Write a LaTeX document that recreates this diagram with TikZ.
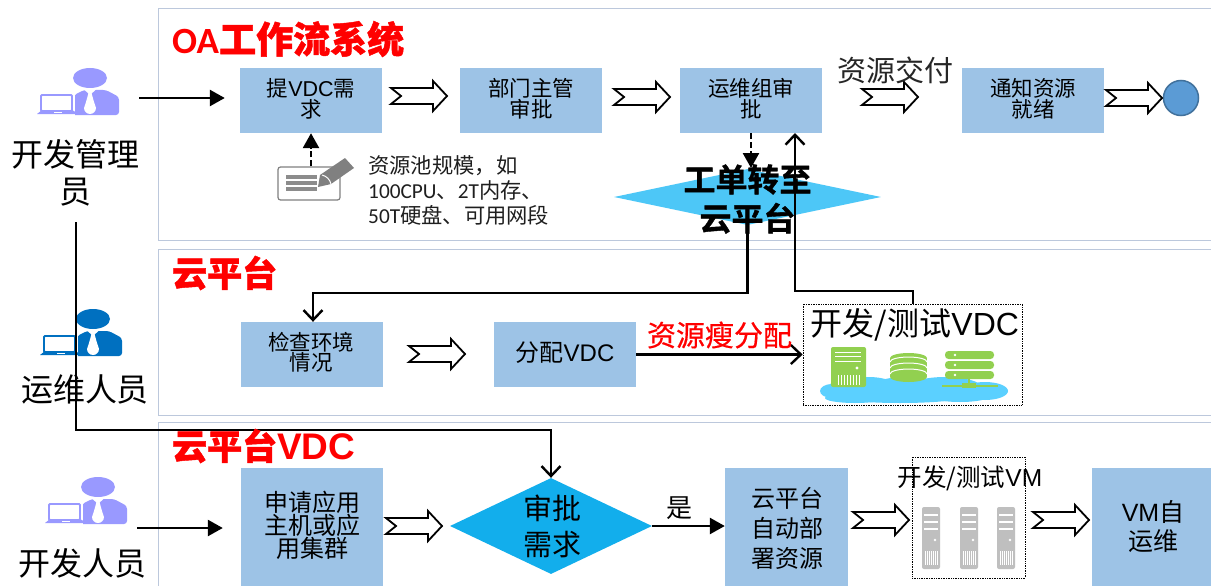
\documentclass[tikz,border=0pt]{standalone}
\usepackage{fontspec}
\setmainfont{Noto Sans CJK SC}
\newfontfamily\latf{Carlito}
\newfontfamily\lvf{Liberation Sans}
\newfontfamily\hvf[FakeBold=1.2]{Noto Sans CJK SC Bold}
\newfontfamily\mdf[FakeBold=0.5]{Noto Sans CJK SC}
\newcommand{\la}[1]{{\latf #1}}
\newcommand{\lv}[1]{{\lvf #1}}
\usetikzlibrary{arrows.meta,shapes.geometric,calc}
\definecolor{panelc}{HTML}{BCC8DC}
\definecolor{boxc}{HTML}{9DC3E6}
\definecolor{dmA}{HTML}{4DC7F7}
\definecolor{dmB}{HTML}{12AEEC}
\definecolor{cirF}{HTML}{5B9BD5}
\definecolor{cirL}{HTML}{41719C}
\definecolor{lav}{HTML}{9999FF}
\definecolor{opsb}{HTML}{0070C0}
\definecolor{grn}{HTML}{92D050}
\definecolor{cld}{HTML}{5BD0FF}
\definecolor{srv}{HTML}{BFBFBF}
\tikzset{
  x=1pt,y=-1pt,
  panel/.style={draw=panelc,line width=1pt,fill=white},
  flowbox/.style={fill=boxc,inner sep=0pt,minimum width=142pt,minimum height=65pt},
  txt/.style 2 args={font=\fontsize{#1}{#2}\selectfont,align=center,inner sep=0pt},
  ttl/.style={font=\fontsize{#1}{#1}\selectfont\bfseries,text=red,inner sep=0pt,anchor=west},
  conn/.style={draw=black,line width=2.6pt},
  filltip/.style={-{Triangle[length=15pt,width=16pt]}},
  opentip/.style={-{Straight Barb[length=10pt,width=19pt,line width=2.4pt]}},
  dotbox/.style={draw=black,line width=.7pt,densely dotted,inner sep=0pt},
  barrow/.pic={\draw[black,line width=1.8pt,fill=white,miter limit=10]
     (0,-8)--(42,-8)--(42,-15)--(56,0)--(42,15)--(42,8)--(0,8)--(10,0)--cycle;},
  person/.pic={
    \fill[pic actions,rounded corners=3pt] (74,95)--(84,90)--(106,90)--(119,97)--(119,115)--(66,115)--(74,112)--cycle;
    \fill[pic actions] (90,78) ellipse [x radius=17,y radius=10];
    \fill[white] (83,88.5)--(97,88.5)--(90,95)--cycle;
    \fill[white] (88.5,93)--(91.5,93)--(94,102)--(96,108) arc[start angle=0,end angle=180,radius=6]--(86,102)--cycle;
    \fill[white] (37,90) rectangle (74.5,116);
    \draw[line width=1.8pt,pic actions,fill=white,rounded corners=1pt] (41,95) rectangle (72,111);
    \fill[pic actions] (42,110)--(72,110)--(79,114)--(37,114)--cycle;
    \draw[white,line width=.8pt] (54,112.5)--(62,112.5);
  },
  gsrv/.pic={
    \fill[srv,rounded corners=2pt] (0,0) rectangle (18,62);
    \foreach \yy in {8,15,22}{\draw[white,line width=1.6pt] (2,\yy)--(16,\yy);}
    \fill[white] (13,33) circle (1.4);
    \foreach \xx in {3,5,...,15}{\draw[white,line width=.7pt] (\xx,44)--(\xx,58);}
  },
}
\begin{document}
\begin{tikzpicture}
\useasboundingbox (0,0) rectangle (1211,586);
\clip (0,0) rectangle (1211,586);
% panels
\path[panel] (158,9) rectangle (1220,240);
\path[panel] (158,249) rectangle (1220,415);
\path[panel] (158,422) rectangle (1220,600);
% boxes
\node[flowbox] (b1) at (311,100.5) {};
\node[flowbox] (b2) at (531,100.5) {};
\node[flowbox] (b3) at (751,100.5) {};
\node[flowbox] (b4) at (1033,100.5) {};
\node[flowbox] (b5) at (312,354.5) {};
\node[flowbox] (b6) at (565,354.5) {};
\node[flowbox,minimum height=130pt] (b7) at (312,533) {};
\node[flowbox,minimum width=123pt,minimum height=130pt] (b8) at (786.5,533) {};
\node[flowbox,minimum width=124pt,minimum height=130pt] (b9) at (1154,533) {};
\node[diamond,fill=dmA,inner sep=0pt,minimum width=267pt,minimum height=56pt,shape aspect=4.77] (wf) at (747.5,197) {};
\node[diamond,fill=dmB,inner sep=0pt,minimum width=202pt,minimum height=96pt,shape aspect=2.1] (ap) at (551,526) {};
\node[circle,fill=cirF,draw=cirL,line width=1.5pt,inner sep=0pt,minimum size=35pt] (end) at (1181,98) {};
% people
\pic[lav] at (0,0) {person};
\pic[opsb] at (3,241) {person};
\pic[lav] at (8,409) {person};
% form icon
\node[draw=gray,line width=1.2pt,rounded corners=2.5pt,fill=white,minimum width=62pt,minimum height=33pt,inner sep=0pt] (form) at (309,183.5) {};
\foreach \yy in {177,183,189}{\draw[gray!90,line width=3.4pt] (286,\yy)--(317,\yy);}
\fill[gray] (318,187)--(320,175)--(345,158)--(354,168)--(331,184)--cycle;
\draw[white,line width=1pt] (322,175) to[bend left=30] (331,184);
% VDC container and icons
\node[dotbox,minimum width=219pt,minimum height=101pt] (vdc) at (912.5,354.5) {};
\foreach \cx/\cy/\rx/\ry in {832/391/12/7,850/388/22/9,868/388/30/11,905/388/34/11,945/387/36/10,985/391/23/9,900/395/70/8,960/396/30/6,855/398/30/5}{
  \fill[cld] (\cx,\cy) ellipse [x radius=\rx,y radius=\ry];}
\fill[grn,rounded corners=2pt] (831,347) rectangle (866,387);
\foreach \yy in {352,356,361}{\draw[white,line width=1pt] (835,\yy)--(861,\yy);}
\fill[white] (857,368) circle (1.6);
\foreach \xx in {838,841,...,860}{\draw[white,line width=.8pt] (\xx,375)--(\xx,385);}
\fill[grn] (890,358) rectangle (927,377);
\fill[grn] (908.5,377) ellipse [x radius=18.5,y radius=5];
\fill[grn] (908.5,358) ellipse [x radius=18.5,y radius=5];
\foreach \cy in {362,368,374}{
  \draw[white,line width=1pt] (890,\cy) arc[start angle=180,end angle=360,x radius=18.5,y radius=5];}
\foreach \cy in {351,361,371}{
  \fill[grn,rounded corners=3.5pt] (945,\cy) rectangle (994,\cy+8);
  \fill[white] (955,\cy+4) circle (1.3);}
\draw[grn,line width=2pt] (969,379)--(969,386);
\draw[grn,line width=1.5pt] (942,386)--(998,386);
\fill[grn] (962,383) rectangle (976,388);
% VM container
\node[dotbox,minimum width=113pt,minimum height=121pt] (vm) at (968.5,517.5) {};
\pic at (922,507) {gsrv};
\pic at (960,507) {gsrv};
\pic at (997,507) {gsrv};
% block arrows
\pic at (391,96) {barrow};
\pic at (614,97) {barrow};
\pic at (862,97) {barrow};
\pic at (1106,98) {barrow};
\pic at (409,354) {barrow};
\pic at (386,526) {barrow};
\pic at (853,520) {barrow};
\pic at (1033,520) {barrow};
% connectors
\coordinate (adminout) at (139,98);
\coordinate (admindown) at (76,222);
\coordinate (devout) at (137,528);
\coordinate (vdcup) at (913,304);
\draw[conn,filltip,shorten >=15pt] (adminout) -- (adminout -| b1.west);
\draw[conn,filltip,shorten >=18pt] (devout) -- (devout -| b7.west);
\draw[conn,filltip,dash pattern=on 6pt off 3pt] (form.north -| b1.south) -- (b1.south);
\draw[conn,filltip,dash pattern=on 6pt off 3pt] (b3.south) -- (751,168);
\draw[conn,opentip] (wf.south) -- (747.5,293) -- (313,293) -- (b5.north -| 313,0);
\draw[conn,opentip] (vdcup) -- (913,291) -- (795,291) -- (795,133);
\draw[conn,opentip] (admindown) -- (76,430) -- (551,430) -- (ap.north);
\draw[conn,opentip] (b6.east) -- (vdc.west);
\draw[conn,filltip] (ap.east) -- (ap.east -| b8.west);
% text
\node[ttl=37] (t1) at (172,39) {\hvf\la{\bfseries OA}工作流系统};
\node[ttl=35] (t2) at (172,273) {\hvf 云平台};
\node[ttl=35] (t3) at (172,446) {\hvf 云平台{\lvf\bfseries\fontsize{37}{37}\selectfont VDC}};
\node[txt={32}{37}] (p1) at (76,173) {开发管理\\员};
\node[txt={32}{32}] (p2) at (85,389) {运维人员};
\node[txt={32}{32}] (p3) at (83,563) {开发人员};
\node[txt={21.5}{21}] (l1) at (311,99) {提\lv{VDC}需\\求};
\node[txt={21.5}{21}] (l2) at (531,99) {部门主管\\审批};
\node[txt={21.5}{21}] (l3) at (751,99) {运维组审\\批};
\node[txt={21.5}{21}] (l4) at (1033,99) {通知资源\\就绪};
\node[txt={21.5}{20}] (l5) at (311,352) {检查环境\\情况};
\node[txt={24}{24}] (l6) at (565,353) {分配\lv{VDC}};
\node[txt={24}{23}] (l7) at (312,525) {申请应用\\主机或应\\用集群};
\node[txt={24}{30}] (l8) at (787,528) {云平台\\自动部\\署资源};
\node[txt={25}{29}] (l9) at (1153,527) {\lv{VM}自\\运维};
\node[txt={29}{29},text=black!85] (d1) at (895.5,70) {资源交付};
\node[txt={21.3}{25},align=left,anchor=west,text=black!88] (note) at (368,190) {资源池规模，如\\\la{100CPU}、\la{2T}内存、\\\la{50T}硬盘、可用网段};
\node[txt={32}{39},font=\fontsize{32}{39}\selectfont\hvf] (wft) at (747.5,199) {工单转至\\云平台};
\node[txt={29}{36}] (apt) at (552,526) {审批\\需求};
\node[txt={26}{26}] (yes) at (679,508) {是};
\node[txt={29}{29},text=red,font=\fontsize{29}{29}\selectfont\mdf] (rs) at (719.5,335) {资源瘦分配};
\node[txt={32}{32}] (vdct) at (915,325) {开发/测试\lv{VDC}};
\node[txt={24.5}{25}] (vmt) at (970,478) {开发/测试\lv{VM}};
\end{tikzpicture}
\end{document}
